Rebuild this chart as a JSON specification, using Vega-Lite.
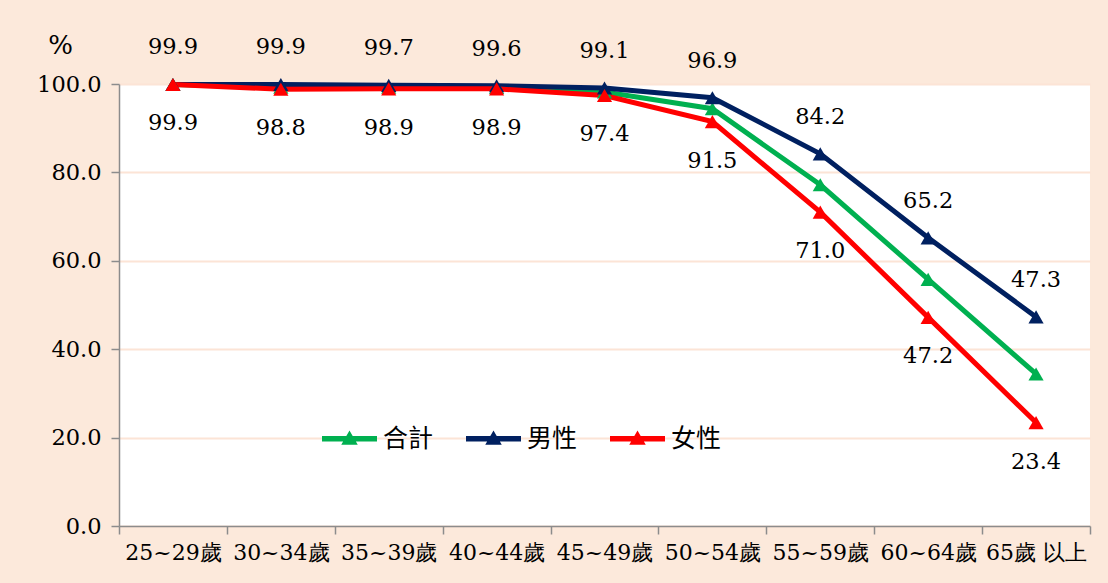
{
  "$schema": "https://vega.github.io/schema/vega-lite/v6.json",
  "width": 971,
  "height": 442,
  "autosize": {"type": "none"},
  "padding": {"left": 119, "top": 84, "right": 18, "bottom": 57},
  "background": "#FCE9DB",
  "config": {
    "view": {"fill": "white", "stroke": null},
    "font": "DejaVu Serif"
  },
  "data": {
    "values": [
      {"age": "25~29歲", "series": "合計", "value": 99.9},
      {"age": "30~34歲", "series": "合計", "value": 99.3},
      {"age": "35~39歲", "series": "合計", "value": 99.3},
      {"age": "40~44歲", "series": "合計", "value": 99.2},
      {"age": "45~49歲", "series": "合計", "value": 98.2},
      {"age": "50~54歲", "series": "合計", "value": 94.4},
      {"age": "55~59歲", "series": "合計", "value": 77.2},
      {"age": "60~64歲", "series": "合計", "value": 55.8},
      {"age": "65歲 以上", "series": "合計", "value": 34.4},
      {"age": "25~29歲", "series": "男性", "value": 99.9},
      {"age": "30~34歲", "series": "男性", "value": 99.9},
      {"age": "35~39歲", "series": "男性", "value": 99.7},
      {"age": "40~44歲", "series": "男性", "value": 99.6},
      {"age": "45~49歲", "series": "男性", "value": 99.1},
      {"age": "50~54歲", "series": "男性", "value": 96.9},
      {"age": "55~59歲", "series": "男性", "value": 84.2},
      {"age": "60~64歲", "series": "男性", "value": 65.2},
      {"age": "65歲 以上", "series": "男性", "value": 47.3},
      {"age": "25~29歲", "series": "女性", "value": 99.9},
      {"age": "30~34歲", "series": "女性", "value": 98.8},
      {"age": "35~39歲", "series": "女性", "value": 98.9},
      {"age": "40~44歲", "series": "女性", "value": 98.9},
      {"age": "45~49歲", "series": "女性", "value": 97.4},
      {"age": "50~54歲", "series": "女性", "value": 91.5},
      {"age": "55~59歲", "series": "女性", "value": 71.0},
      {"age": "60~64歲", "series": "女性", "value": 47.2},
      {"age": "65歲 以上", "series": "女性", "value": 23.4}
    ]
  },
  "encoding": {
    "x": {
      "field": "age",
      "type": "nominal",
      "sort": null,
      "bandPosition": 0.5,
      "scale": {"type": "band", "paddingInner": 0, "paddingOuter": 0},
      "axis": {
        "title": null,
        "labelAngle": 0,
        "labelFont": "DejaVu Serif",
        "labelFontSize": 22,
        "labelColor": "black",
        "labelPadding": 8,
        "tickBand": "extent",
        "tickSize": 8,
        "tickColor": "#8c8c8c",
        "tickWidth": 1.5,
        "domainColor": "#8c8c8c",
        "domainWidth": 1.5,
        "grid": false
      }
    },
    "y": {
      "field": "value",
      "type": "quantitative",
      "scale": {"domain": [0, 100], "nice": false},
      "axis": {
        "values": [0, 20, 40, 60, 80, 100],
        "format": ".1f",
        "title": "%",
        "titleFont": "DejaVu Serif",
        "titleAngle": 0,
        "titleX": -59,
        "titleY": -39,
        "titleAlign": "center",
        "titleBaseline": "middle",
        "titleFontSize": 26,
        "titleFontWeight": "normal",
        "titleColor": "black",
        "labelFont": "DejaVu Serif",
        "labelFontSize": 22.5,
        "labelColor": "black",
        "labelPadding": 10,
        "tickSize": 8,
        "tickColor": "#8c8c8c",
        "tickWidth": 1.5,
        "domainColor": "#8c8c8c",
        "domainWidth": 1.5,
        "gridColor": "#FCE4D6",
        "gridWidth": 2
      }
    }
  },
  "layer": [
    {
      "mark": {"type": "line", "strokeWidth": 5, "strokeJoin": "miter"},
      "encoding": {
        "color": {
          "field": "series",
          "type": "nominal",
          "sort": ["合計", "男性", "女性"],
          "scale": {"domain": ["合計", "男性", "女性"], "range": ["#00B050", "#002060", "#FF0000"]},
          "legend": {
            "title": null,
            "orient": "none",
            "legendX": 203,
            "legendY": 327,
            "direction": "horizontal",
            "symbolType": "M-1,-0.1L1,-0.1L1,0.1L-1,0.1ZM-0.3,0.22L0,-0.3L0.3,0.22Z",
            "symbolSize": 3025,
            "symbolStrokeWidth": 0,
            "labelFont": "Noto Sans CJK TC",
            "labelFontSize": 25,
            "labelColor": "black",
            "labelOffset": 6,
            "columnPadding": 32,
            "encode": {
              "symbols": {"update": {"fill": {"scale": "color", "field": "value"}, "fillOpacity": {"value": 1}, "strokeWidth": {"value": 0}}}
            }
          }
        }
      }
    },
    {
      "mark": {"type": "point", "shape": "triangle-up", "filled": true, "size": 230, "opacity": 1},
      "encoding": {
        "color": {"field": "series", "type": "nominal", "legend": null}
      }
    },
    {
      "transform": [{"filter": "datum.series === '男性'"}],
      "mark": {"type": "text", "fontSize": 22.5, "dy": -37, "color": "black", "font": "DejaVu Serif"},
      "encoding": {"text": {"field": "value", "type": "quantitative", "format": ".1f"}}
    },
    {
      "transform": [{"filter": "datum.series === '女性'"}],
      "mark": {"type": "text", "fontSize": 22.5, "dy": 39, "color": "black", "font": "DejaVu Serif"},
      "encoding": {"text": {"field": "value", "type": "quantitative", "format": ".1f"}}
    }
  ]
}
